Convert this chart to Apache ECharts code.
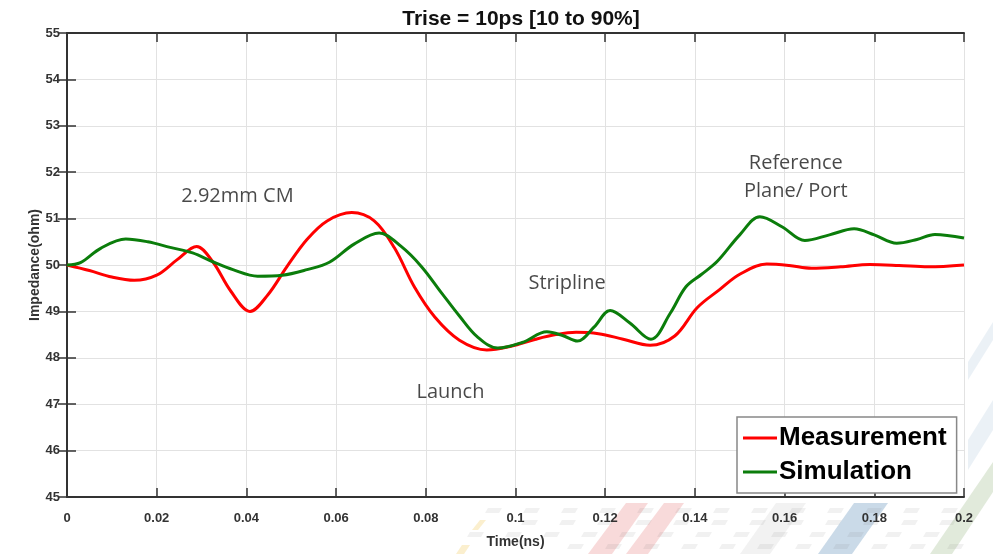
<!DOCTYPE html>
<html>
<head>
<meta charset="utf-8">
<script src="https://cdn.jsdelivr.net/npm/echarts@6/dist/echarts.min.js"></script>
<style>html,body{margin:0;padding:0;background:#fff;}#c{width:993px;height:554px;}</style>
</head>
<body>
<div id="c"></div>
<script>
const chartTitle = 'Trise = 10ps [10 to 90%]';
const xAxisName = 'Time(ns)';
const yAxisName = 'Impedance(ohm)';
const seriesNames = ['Measurement', 'Simulation'];

const timeMeas = [0, 0.005, 0.010, 0.015, 0.020, 0.0245, 0.0289, 0.0325, 0.0365, 0.0408,
                  0.0448, 0.049, 0.0535, 0.058, 0.0635, 0.0685, 0.073, 0.0775, 0.082, 0.0875,
                  0.0936, 0.099, 0.1045, 0.109, 0.1135, 0.1185, 0.124, 0.130, 0.1355, 0.1405,
                  0.1455, 0.150, 0.156, 0.161, 0.166, 0.1725, 0.179, 0.1855, 0.192, 0.2];
const measurement = [50.0, 49.88, 49.74, 49.67, 49.78, 50.11, 50.40, 50.07, 49.44, 49.00,
                     49.36, 49.96, 50.55, 50.95, 51.13, 50.95, 50.37, 49.52, 48.88, 48.38,
                     48.17, 48.25, 48.40, 48.50, 48.55, 48.52, 48.40, 48.27, 48.47, 49.08,
                     49.47, 49.80, 50.02, 49.99, 49.93, 49.96, 50.01, 49.99, 49.96, 50.0];

// Simulation: time (ns) and impedance (ohm)
const timeSim = [0, 0.003, 0.0075, 0.0131, 0.018, 0.023, 0.028, 0.0325, 0.037, 0.0425,
                 0.048, 0.0535, 0.0585, 0.064, 0.0696, 0.0745, 0.079, 0.0835, 0.0875, 0.0915,
                 0.096, 0.1015, 0.107, 0.1105, 0.1138, 0.1175, 0.1211, 0.1255, 0.1302, 0.1345,
                 0.138, 0.1415, 0.145, 0.150, 0.1545, 0.1595, 0.1645, 0.170, 0.1755, 0.180,
                 0.185, 0.1895, 0.1935, 0.2];
const simulation = [50.0, 50.05, 50.36, 50.56, 50.50, 50.38, 50.26, 50.07, 49.90, 49.76,
                    49.78, 49.90, 50.06, 50.45, 50.69, 50.40, 49.97, 49.40, 48.90, 48.45,
                    48.21, 48.33, 48.56, 48.48, 48.36, 48.66, 49.02, 48.75, 48.40, 48.96,
                    49.53, 49.80, 50.08, 50.65, 51.04, 50.82, 50.53, 50.65, 50.78, 50.65,
                    50.47, 50.55, 50.66, 50.58];

const annotations = [
  {text: '2.92mm CM', t: 0.038, v: 51.48},
  {text: 'Launch', t: 0.0855, v: 47.25},
  {text: 'Stripline', t: 0.1115, v: 49.6},
  {text: 'Reference\nPlane/ Port', t: 0.1625, v: 51.88}
];

const measPairs = timeMeas.map((t, i) => [t, measurement[i]]);
const simPairs = timeSim.map((t, i) => [t, simulation[i]]);

// faint decorative background stripes (bottom-right corner)
const deco = [];
function poly(points, fill) { deco.push({type: 'polygon', z: -10, silent: true, shape: {points}, style: {fill}}); }
function dash(x, y, w, fill) { deco.push({type: 'polygon', z: -10, silent: true, shape: {points: [[x, y], [x + w, y], [x + w - 3, y + 5], [x - 3, y + 5]]}, style: {fill}}); }
poly([[588, 554], [612, 554], [648, 503], [626, 503]], 'rgba(220,70,70,0.20)');
poly([[626, 554], [648, 554], [684, 503], [664, 503]], 'rgba(220,70,70,0.20)');
poly([[740, 554], [770, 554], [806, 503], [776, 503]], 'rgba(150,150,150,0.12)');
poly([[818, 554], [852, 554], [888, 503], [854, 503]], 'rgba(90,140,185,0.32)');
poly([[930, 554], [952, 554], [993, 492], [993, 462]], 'rgba(120,160,90,0.22)');
poly([[968, 470], [993, 430], [993, 400], [968, 440]], 'rgba(90,140,185,0.12)');
poly([[968, 380], [993, 340], [993, 322], [968, 362]], 'rgba(90,140,185,0.12)');
const dashRows = [[508, 480], [520, 520], [532, 470], [544, 560]];
dashRows.forEach(([y, x0]) => { for (let x = x0; x < 960; x += 38) dash(x + (y % 7) * 2, y, 14, 'rgba(120,120,120,0.10)'); });
poly([[480, 520], [486, 520], [478, 530], [472, 530]], 'rgba(240,190,60,0.25)');
poly([[462, 545], [470, 545], [464, 554], [456, 554]], 'rgba(240,190,60,0.25)');

const chart = echarts.init(document.getElementById('c'));
const labelFont = {color: '#333', fontWeight: 'bold', fontSize: 13, fontFamily: '"Liberation Sans Narrow", "Liberation Sans", Arial, sans-serif'};
const axisLineStyle = {color: '#333', width: 2};

chart.setOption({
  animation: false,
  backgroundColor: '#fff',
  graphic: deco,
  title: {
    text: chartTitle, left: 516, top: 4, textAlign: 'center',
    textStyle: {color: '#111', fontWeight: 'bold', fontSize: 21, fontFamily: '"Liberation Sans Narrow", "Liberation Sans", Arial, sans-serif'}
  },
  grid: {left: 67, right: 29, top: 33, bottom: 51, show: true, backgroundColor: '#fff', borderWidth: 0},
  legend: {
    data: seriesNames,
    orient: 'vertical',
    left: 737, top: 417, width: 216,
    padding: [8, 10, 8, 6],
    itemGap: 8,
    itemWidth: 34, itemHeight: 3,
    icon: 'rect',
    backgroundColor: '#fff',
    borderColor: '#888', borderWidth: 1.5,
    textStyle: {color: '#000', fontWeight: 'bold', fontSize: 26, fontFamily: '"Liberation Sans", Arial, sans-serif', padding: [0, 0, 0, -3]}
  },
  xAxis: [{
    type: 'value', min: 0, max: 0.2, interval: 0.02,
    name: xAxisName, nameLocation: 'middle', nameGap: 38, nameMoveOverlap: false,
    nameTextStyle: Object.assign({}, labelFont, {fontSize: 14}),
    axisLine: {show: true, onZero: false, lineStyle: axisLineStyle},
    axisTick: {show: true, inside: true, length: 9, lineStyle: {color: '#333', width: 1.5}},
    axisLabel: Object.assign({margin: 15, formatter: v => String(+v.toFixed(2))}, labelFont),
    splitLine: {show: true, lineStyle: {color: '#e2e2e2', width: 1}}
  }, {
    type: 'value', min: 0, max: 0.2, interval: 0.02, position: 'top',
    axisLine: {show: true, lineStyle: axisLineStyle},
    axisTick: {show: true, inside: true, length: 9, lineStyle: {color: '#333', width: 1.5}},
    axisLabel: {show: false}, splitLine: {show: false}
  }],
  yAxis: [{
    type: 'value', min: 45, max: 55, interval: 1,
    name: yAxisName, nameLocation: 'middle', nameGap: 25, nameMoveOverlap: false,
    nameTextStyle: Object.assign({}, labelFont, {fontSize: 14}),
    axisLine: {show: true, onZero: false, lineStyle: axisLineStyle},
    axisTick: {show: true, inside: true, length: 9, lineStyle: {color: '#333', width: 1.5}},
    axisLabel: Object.assign({margin: 7}, labelFont),
    splitLine: {show: true, lineStyle: {color: '#e2e2e2', width: 1}}
  }, {
    type: 'value', min: 45, max: 55, interval: 1, position: 'right',
    axisLine: {show: true, lineStyle: axisLineStyle},
    axisTick: {show: true, inside: true, length: 9, lineStyle: {color: '#333', width: 1.5}},
    axisLabel: {show: false}, splitLine: {show: false}
  }],
  series: [{
    name: seriesNames[0], type: 'line', data: measPairs, smooth: 0.35,
    showSymbol: false, lineStyle: {color: '#ff0000', width: 3}, itemStyle: {color: '#ff0000'}, z: 3
  }, {
    name: seriesNames[1], type: 'line', data: simPairs, smooth: 0.35,
    showSymbol: false, lineStyle: {color: '#0b7d0b', width: 3}, itemStyle: {color: '#0b7d0b'}, z: 4
  }, {
    type: 'scatter', silent: true, symbolSize: 0,
    data: annotations.map(a => ({value: [a.t, a.v], label: {show: true, formatter: a.text}})),
    label: {position: 'inside', color: '#1a1a1a', fontSize: 20, lineHeight: 28, align: 'center', fontFamily: '"Open Sans", "Noto Sans", sans-serif'},
    z: 5
  }]
});
</script>
</body>
</html>
